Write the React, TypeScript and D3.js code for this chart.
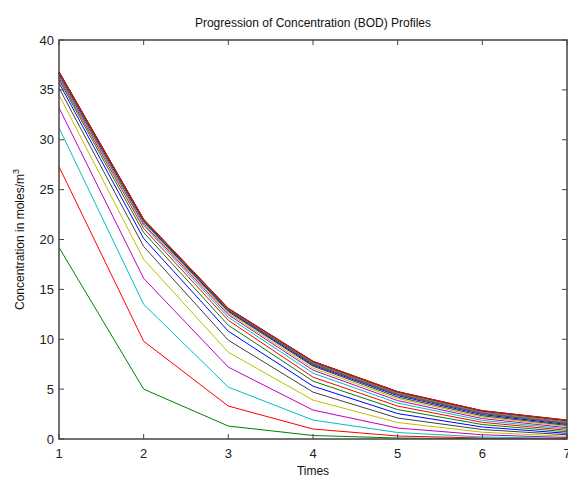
import React from "react";
import * as d3 from "d3";

const times = [1, 2, 3, 4, 5, 6, 7];
const yTicks = [0, 5, 10, 15, 20, 25, 30, 35, 40];
const xTicks = [1, 2, 3, 4, 5, 6, 7];

const s01 = [19.2, 5.0, 1.3, 0.35, 0.1, 0.03, 0.01];
const s02 = [27.3, 9.8, 3.3, 1.0, 0.3, 0.1, 0.03];
const s03 = [31.2, 13.5, 5.2, 1.9, 0.65, 0.2, 0.07];
const s04 = [33.2, 16.1, 7.2, 2.9, 1.1, 0.42, 0.15];
const s05 = [34.5, 18.0, 8.7, 3.9, 1.65, 0.68, 0.27];
const s06 = [35.2, 19.3, 9.9, 4.7, 2.1, 0.95, 0.42];
const s07 = [35.7, 20.1, 10.8, 5.3, 2.55, 1.2, 0.57];
const s08 = [36.0, 20.7, 11.4, 5.8, 2.95, 1.45, 0.72];
const s09 = [36.2, 21.1, 11.9, 6.2, 3.3, 1.67, 0.87];
const s10 = [36.35, 21.4, 12.2, 6.6, 3.6, 1.87, 1.0];
const s11 = [36.45, 21.55, 12.45, 6.9, 3.85, 2.05, 1.13];
const s12 = [36.55, 21.7, 12.6, 7.1, 4.05, 2.2, 1.25];
const s13 = [36.6, 21.8, 12.75, 7.3, 4.2, 2.33, 1.36];
const s14 = [36.65, 21.85, 12.85, 7.4, 4.35, 2.45, 1.46];
const s15 = [36.7, 21.9, 12.9, 7.5, 4.45, 2.55, 1.55];
const s16 = [36.72, 21.93, 12.95, 7.58, 4.53, 2.62, 1.63];
const s17 = [36.75, 21.95, 13.0, 7.64, 4.6, 2.68, 1.7];
const s18 = [36.77, 21.97, 13.03, 7.68, 4.65, 2.73, 1.76];
const s19 = [36.78, 21.98, 13.05, 7.72, 4.68, 2.77, 1.8];
const s20 = [36.79, 21.99, 13.07, 7.75, 4.71, 2.8, 1.84];
const s21 = [36.8, 22.0, 13.08, 7.77, 4.73, 2.82, 1.87];
const s22 = [36.8, 22.0, 13.09, 7.78, 4.74, 2.83, 1.89];
const s23 = [36.85, 22.05, 13.1, 7.8, 4.76, 2.85, 1.9];

const series = [s01, s02, s03, s04, s05, s06, s07, s08, s09, s10, s11, s12, s13, s14, s15, s16, s17, s18, s19, s20, s21, s22, s23];

// MATLAB classic order; the first visible series is green
const colorOrder = ["#0000ff", "#008000", "#ff0000", "#00bfbf", "#bf00bf", "#bfbf00", "#404040"];

export default function App() {
  const W = 568, H = 477;
  const left = 59, right = 567, top = 40, bottom = 439;
  const x = d3.scaleLinear().domain([1, 7]).range([left, right]);
  const y = d3.scaleLinear().domain([0, 40]).range([bottom, top]);
  const line = d3.line<number>().x((_, i) => x(times[i])).y((d) => y(d));
  const font = "'Liberation Sans', Arial, sans-serif";
  const axisColor = "#444";
  const tl = 5;
  return (
    <svg width={W} height={H} style={{ position: "absolute", left: 0, top: 0, background: "#fff" }}>
      <rect x={0} y={0} width={W} height={H} fill="#fff" />
      <g>
        {series.map((s, i) => (
          <path key={i} d={line(s) || ""} fill="none" stroke={colorOrder[(i + 1) % 7]} strokeWidth={1} />
        ))}
      </g>
      <rect x={left} y={top} width={right - left} height={bottom - top} fill="none" stroke={axisColor} strokeWidth={1.5} />
      {xTicks.map((t) => (
        <g key={"x" + t}>
          <line x1={x(t)} x2={x(t)} y1={bottom} y2={bottom - tl} stroke={axisColor} />
          <line x1={x(t)} x2={x(t)} y1={top} y2={top + tl} stroke={axisColor} />
          <text x={x(t)} y={bottom + 19} textAnchor="middle" fontFamily={font} fontSize={13} fill="#222">{t}</text>
        </g>
      ))}
      {yTicks.map((t) => (
        <g key={"y" + t}>
          <line x1={left} x2={left + tl} y1={y(t)} y2={y(t)} stroke={axisColor} />
          <line x1={right} x2={right - tl} y1={y(t)} y2={y(t)} stroke={axisColor} />
          <text x={left - 5} y={y(t) + 4.5} textAnchor="end" fontFamily={font} fontSize={13} fill="#222">{t}</text>
        </g>
      ))}
      <text x={(left + right) / 2} y={27} textAnchor="middle" fontFamily={font} fontSize={12} fill="#111">Progression of Concentration (BOD) Profiles</text>
      <text x={(left + right) / 2} y={475} textAnchor="middle" fontFamily={font} fontSize={12} fill="#111">Times</text>
      <text transform={`translate(24, ${(top + bottom) / 2}) rotate(-90)`} textAnchor="middle" fontFamily={font} fontSize={12} fill="#111">
        Concentration in moles/m<tspan dy={-5} fontSize={9}>3</tspan>
      </text>
    </svg>
  );
}
